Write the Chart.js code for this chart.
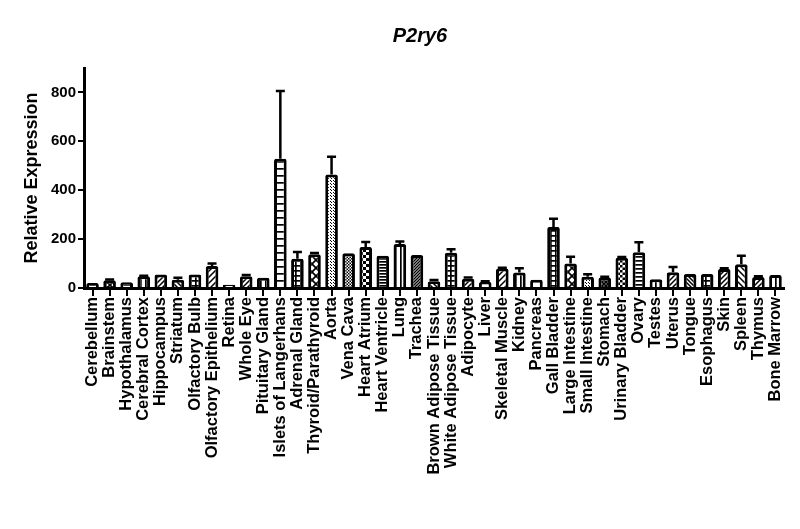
<!DOCTYPE html>
<html>
<head>
<meta charset="utf-8">
<script src="https://cdn.jsdelivr.net/npm/chart.js@4.4.1/dist/chart.umd.min.js"></script>
<style>
html,body{margin:0;padding:0;background:#fff;}
#wrap{width:800px;height:529px;}
</style>
</head>
<body>
<div id="wrap"><canvas id="c" width="800" height="529"></canvas></div>
<script>
const chartTitle = 'P2ry6';
const yAxisTitle = 'Relative Expression';
const tissues = ['Cerebellum','Brainstem','Hypothalamus','Cerebral Cortex','Hippocampus','Striatum','Olfactory Bulb','Olfactory Epithelium','Retina','Whole Eye','Pituitary Gland','Islets of Langerhans','Adrenal Gland','Thyroid/Parathyroid','Aorta','Vena Cava','Heart Atrium','Heart Ventricle','Lung','Trachea','Brown Adipose Tissue','White Adipose Tissue','Adipocyte','Liver','Skeletal Muscle','Kidney','Pancreas','Gall Bladder','Large Intestine','Small Intestine','Stomach','Urinary Bladder','Ovary','Testes','Uterus','Tongue','Esophagus','Skin','Spleen','Thymus','Bone Marrow'];
const expression = [20,32,24,48,55,34,55,90,13,48,42,529,120,138,464,142,168,132,180,135,28,144,38,25,80,63,34,250,100,46,43,124,146,36,64,57,57,78,97,45,53];
const errorUp = [0,3,0,2,0,8,0,10,0,5,0,277,27,5,73,0,20,0,10,0,5,15,5,3,3,18,0,33,28,10,3,3,41,0,22,0,0,3,35,3,0];
const yTicks = [0,200,400,600,800];

// fill style per bar (pattern kind, tile size)
const fillKinds = [['h',4],['cross',5],['h',4],['v',5],['diag',5],['back',5],['grid',5],['diag',6],['none',4],['diag',5],['v',5],['h',7],['grid',5],['cross',8],['dots',3],['check',3],['check',6],['h',3],['v',5],['diag',3],['back',5],['grid',5],['diag',5],['none',4],['diag',6],['v',5],['none',4],['grid',5],['cross',8],['dots',3],['cross',4],['check',5],['h',4],['v',5],['diag',5],['back',4],['grid',5],['diag',5],['back',6],['diag',5],['v',5]];

const cv = document.getElementById('c');
const ctx = cv.getContext('2d');

function makePattern(kind, s){
  const c = document.createElement('canvas'); c.width = s; c.height = s;
  const g = c.getContext('2d');
  g.fillStyle = '#fff'; g.fillRect(0,0,s,s);
  g.fillStyle = '#000'; g.strokeStyle = '#000'; g.lineWidth = 1.5;
  const diag = () => { g.beginPath(); g.moveTo(0,s); g.lineTo(s,0); g.moveTo(-1,1); g.lineTo(1,-1); g.moveTo(s-1,s+1); g.lineTo(s+1,s-1); g.stroke(); };
  const back = () => { g.beginPath(); g.moveTo(0,0); g.lineTo(s,s); g.moveTo(s-1,-1); g.lineTo(s+1,1); g.moveTo(-1,s-1); g.lineTo(1,s+1); g.stroke(); };
  switch(kind){
    case 'h': g.fillRect(0,0,s,1.7); break;
    case 'v': g.fillRect(0,0,1.7,s); break;
    case 'grid': g.fillRect(0,0,s,1.7); g.fillRect(0,0,1.7,s); break;
    case 'diag': diag(); break;
    case 'back': back(); break;
    case 'cross': g.lineWidth = 1.7; diag(); back(); break;
    case 'dots': g.fillRect(0,0,1,1); g.fillRect(Math.floor(s/2),Math.floor(s/2),1,1); break;
    case 'check': { const h = s/2; g.fillRect(0,0,h,h); g.fillRect(h,h,h,h); break; }
    default: break;
  }
  return ctx.createPattern(c,'repeat');
}
const fills = fillKinds.map(k => makePattern(k[0], k[1]));

const errorBarPlugin = {
  id: 'errorBars',
  afterDatasetsDraw(chart){
    const meta = chart.getDatasetMeta(0);
    const ys = chart.scales.y;
    const g = chart.ctx;
    g.save();
    g.strokeStyle = '#000'; g.lineWidth = 2.5; g.lineCap = 'butt';
    meta.data.forEach((bar, i) => {
      const e = errorUp[i];
      if (!e) return;
      const top = ys.getPixelForValue(expression[i] + e);
      const base = ys.getPixelForValue(expression[i]);
      g.beginPath();
      g.moveTo(bar.x, base); g.lineTo(bar.x, top);
      g.moveTo(bar.x - 4.5, top); g.lineTo(bar.x + 4.5, top);
      g.stroke();
    });
    g.restore();
  }
};

const titlePlugin = {
  id: 'topTitle',
  afterDraw(chart){
    const a = chart.chartArea;
    const g = chart.ctx;
    g.save();
    g.font = 'italic bold 20px "Liberation Sans", Arial, sans-serif';
    g.fillStyle = '#000'; g.textAlign = 'center'; g.textBaseline = 'middle';
    g.fillText(chartTitle, (a.left + a.right)/2 - 14, 36);
    g.restore();
  }
};

new Chart(ctx, {
  type: 'bar',
  data: {
    labels: tissues,
    datasets: [{
      data: expression,
      backgroundColor: fills,
      borderColor: '#000',
      borderWidth: 3,
      borderRadius: 2,
      borderSkipped: 'bottom',
      barPercentage: 0.74,
      categoryPercentage: 1.0
    }]
  },
  options: {
    responsive: false,
    animation: false,
    devicePixelRatio: 1,
    layout: { padding: { top: 68, right: 16, bottom: 0, left: 0 } },
    plugins: { legend: { display: false }, tooltip: { enabled: false }, title: { display: false } },
    scales: {
      x: {
        offset: true,
        grid: { display: true, drawOnChartArea: false, drawTicks: true, tickLength: 8, lineWidth: 2, color: '#000', offset: false },
        border: { display: true, color: '#000', width: 3 },
        ticks: {
          autoSkip: false, maxRotation: 90, minRotation: 90, padding: 1,
          color: '#000', font: { family: '"Liberation Sans", Arial, sans-serif', size: 16.5, weight: 'bold' }
        },
        afterFit(scale){ scale.height = 241; }
      },
      y: {
        min: 0, max: 900,
        afterBuildTicks(scale){ scale.ticks = yTicks.map(v => ({ value: v })); },
        grid: { display: true, drawOnChartArea: false, drawTicks: true, tickLength: 6, lineWidth: 2, color: '#000' },
        border: { display: true, color: '#000', width: 3 },
        ticks: {
          padding: 2, color: '#000',
          font: { family: '"Liberation Sans", Arial, sans-serif', size: 15, weight: 'bold' }
        },
        title: {
          display: true, text: yAxisTitle, color: '#000', padding: { top: 21, bottom: 0 },
          font: { family: '"Liberation Sans", Arial, sans-serif', size: 18, weight: 'bold' }
        },
        afterFit(scale){ scale.width = 84; }
      }
    }
  },
  plugins: [errorBarPlugin, titlePlugin]
});
</script>
</body>
</html>
